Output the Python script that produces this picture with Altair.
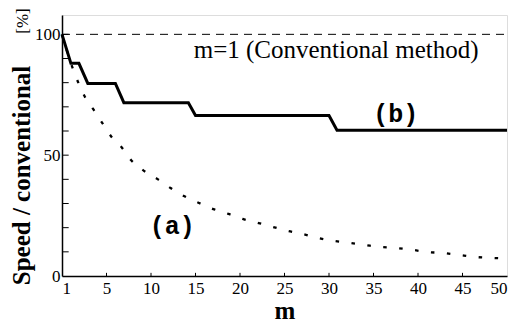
import altair as alt
import pandas as pd

# curve (a): dotted
a_m = [0, 1.15, 1.8, 2.58, 3.57, 4.67, 5.66, 6.76, 7.75, 9.07, 10.7, 12.2, 13.7, 15.4,
       17.0, 18.7, 20.3, 22.1, 23.7, 25.4, 27.0, 28.8, 30.6, 32.3, 34.1, 35.8, 37.5,
       39.4, 41.1, 42.9, 44.6, 46.3, 48.2, 50]
a_val = [100, 86.5, 80.3, 74.1, 68.7, 62.5, 57.1, 53.0, 48.0, 43.9, 40.2, 36.4, 33.1, 30.2,
         27.7, 25.7, 23.6, 21.9, 20.3, 18.6, 17.4, 15.7, 14.5, 13.7, 12.8, 12.0, 11.6,
         10.8, 9.9, 9.5, 8.7, 7.9, 7.5, 7.2]

# curve (b): solid step line
b_m = [0, 1.0, 1.9, 2.9, 6.0, 6.95, 14.2, 15.0, 30.0, 30.9, 50]
b_val = [100, 88.0, 88.0, 79.7, 79.7, 71.7, 71.7, 66.4, 66.4, 60.3, 60.3]

x_ticks = [0, 5, 10, 15, 20, 25, 30, 35, 40, 45, 50]
x_minor = [5, 10, 15, 20, 25, 30, 35, 40, 45]
y_labels = [0, 50, 100]
y_minor = [10, 20, 30, 40, 50, 60, 70, 80, 90, 100]

ref_value = [100]
notes_text = ["m=1 (Conventional method)", "(b)", "(a)", "[%]"]
notes_x = [30.8, 37.5, 12.4, -4.4]
notes_y = [93.4, 67.2, 20.7, 105.5]

SERIF = "Liberation Serif"
MONO = "Liberation Mono"

xs = alt.Scale(domain=[0, 50], nice=False, zero=False)
ys = alt.Scale(domain=[0, 108], nice=False)

df_a = pd.DataFrame({"m": a_m, "v": a_val})
df_b = pd.DataFrame({"m": b_m, "v": b_val})

x_axis = alt.Axis(values=x_ticks, labelExpr="datum.value == 0 ? '1' : datum.label",
                  tickSize=0, grid=False, labelFont=SERIF, labelFontSize=17,
                  labelColor="black", labelPadding=4, domainColor="black",
                  domainWidth=1.5, title="m", titleFont=SERIF, titleFontSize=25,
                  titleFontWeight="bold", titleColor="black", titleBaseline="alphabetic",
                  titleY=42, titleAlign="center")
y_axis = alt.Axis(values=y_labels, tickSize=0, grid=False, labelFont=SERIF,
                  labelFontSize=17, labelColor="black", labelPadding=2,
                  domainColor="black", domainWidth=1.5,
                  title="Speed / conventional", titleFont=SERIF, titleFontSize=25,
                  titleFontWeight="bold", titleColor="black", titleAngle=270,
                  titleBaseline="alphabetic", titleAlign="center", titleX=-33, titleY=160)

line_a = alt.Chart(df_a).mark_line(color="black", strokeWidth=2.3, strokeDash=[3.5, 12.5],
                                   interpolate="monotone").encode(
    x=alt.X("m:Q", scale=xs, axis=x_axis),
    y=alt.Y("v:Q", scale=ys, axis=y_axis),
)

line_b = alt.Chart(df_b).mark_line(color="black", strokeWidth=3).encode(
    x=alt.X("m:Q", scale=xs),
    y=alt.Y("v:Q", scale=ys),
)

ref = alt.Chart(pd.DataFrame({"v": ref_value})).mark_rule(
    color="black", strokeWidth=1, strokeDash=[8, 6]).encode(
    y=alt.Y("v:Q", scale=ys),
    x=alt.datum(0),
    x2=alt.datum(50),
)

yt = alt.Chart(pd.DataFrame({"v": y_minor})).mark_rule(color="black", strokeWidth=1).encode(
    y=alt.Y("v:Q", scale=ys),
    x=alt.datum(0),
    x2=alt.datum(0.75),
)

xt = alt.Chart(pd.DataFrame({"m": x_minor})).mark_rule(color="black", strokeWidth=1).encode(
    x=alt.X("m:Q", scale=xs),
    y=alt.datum(0),
    y2=alt.datum(1.3),
)

df_n = pd.DataFrame({"t": notes_text, "x": notes_x, "y": notes_y})

note_main = alt.Chart(df_n.iloc[[0]]).mark_text(
    font=SERIF, fontSize=25, color="black", align="center", baseline="middle").encode(
    x=alt.X("x:Q", scale=xs), y=alt.Y("y:Q", scale=ys), text="t:N")

note_lbl = alt.Chart(df_n.iloc[[1, 2]]).mark_text(
    font=MONO, fontSize=25, fontWeight="bold", color="black", align="center",
    baseline="middle").encode(
    x=alt.X("x:Q", scale=xs), y=alt.Y("y:Q", scale=ys), text="t:N")

note_pct = alt.Chart(df_n.iloc[[3]]).mark_text(
    font=SERIF, fontSize=17, color="black", align="center", baseline="middle",
    angle=270).encode(
    x=alt.X("x:Q", scale=xs), y=alt.Y("y:Q", scale=ys), text="t:N")

chart = alt.layer(ref, yt, xt, line_a, line_b, note_main, note_lbl, note_pct).properties(
    width=445, height=261,
    autosize=alt.AutoSizeParams(type="none"),
    padding={"left": 54, "top": 7, "right": 12, "bottom": 52},
).configure_view(stroke="black", strokeWidth=1.5).configure(background="white")

chart.save("out.html", embed_options={"renderer": "svg", "actions": False})
